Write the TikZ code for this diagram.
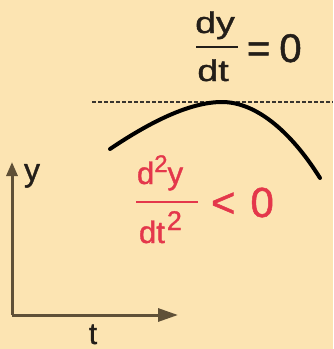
\documentclass[tikz,border=0pt]{standalone}
\usepackage{fontspec}
\setmainfont{Liberation Sans}
\newfontfamily\heavy{Liberation Sans}[FakeBold=1.2]
\usetikzlibrary{arrows.meta}
\definecolor{bg}{RGB}{252,228,178}
\definecolor{axis}{RGB}{95,80,55}
\definecolor{redtext}{RGB}{228,55,75}
\definecolor{ink}{RGB}{35,30,25}
\begin{document}
\begin{tikzpicture}[x=1pt,y=-1pt,
  txt/.style={inner sep=0pt,outer sep=0pt},
  fracbar/.style={line width=2.8pt},
  axisline/.style={draw=axis,line width=3pt},
  curveline/.style={draw=black,line width=4pt,line cap=round},
  levelline/.style={draw=ink!90,line width=2.6pt,dash pattern=on 3.5pt off 2.5pt}]
\fill[bg] (0,0) rectangle (333,349);
\useasboundingbox (0,0) rectangle (333,349);
% top fraction dy/dt = 0
\node[txt,anchor=base,text=ink,font=\heavy\fontsize{30}{32}\selectfont] (dy) at (215,33) {\scalebox{1.25}[1]{dy}};
\coordinate (b1w) at (196,47);
\coordinate (b1e) at (238,47);
\draw[fracbar,ink] (b1w) -- (b1e);
\node[txt,anchor=base,text=ink,font=\heavy\fontsize{30}{32}\selectfont] (dt) at (213,81) {\scalebox{1.25}[1]{dt}};
\node[txt,anchor=base west,text=ink,font=\heavy\fontsize{40}{42}\selectfont] (eq) at (247,62) {=\hspace{9pt}0};
% dashed level line
\coordinate (l1) at (92,102);
\coordinate (l2) at (333,102);
\draw[levelline] (l1) -- (l2);
% curve
\coordinate (c1) at (110,149);
\coordinate (c2) at (222,102);
\coordinate (c3) at (320,178);
\draw[curveline] (c1) .. controls (150,122) and (190,102) .. (c2) .. controls (255,102) and (290,130) .. (c3);
% red second derivative
\node[txt,anchor=base west,text=redtext,font=\heavy\fontsize{31}{33}\selectfont] (d2y) at (137,184) {d\raisebox{12pt}{\fontsize{24}{26}\selectfont 2}y};
\coordinate (b2w) at (136,202);
\coordinate (b2e) at (198,202);
\draw[fracbar,redtext] (b2w) -- (b2e);
\node[txt,anchor=base west,text=redtext,font=\heavy\fontsize{31}{33}\selectfont] (dt2) at (139,243) {dt\hspace{2pt}\raisebox{13pt}{\fontsize{27}{29}\selectfont 2}};
\node[txt,anchor=base west,text=redtext,font=\heavy\fontsize{42}{44}\selectfont] (lt) at (211,217) {<\hspace{15pt}0};
% axes
\coordinate (o) at (12,315);
\coordinate (ytip) at (12,162);
\coordinate (ttip) at (178,315);
\draw[axisline,-{Triangle[length=14pt,width=11pt]}] (o) -- (ytip);
\draw[axisline,-{Triangle[length=20pt,width=13pt]}] (o) -- (ttip);
\node[txt,anchor=base west,text=ink,font=\heavy\fontsize{32}{34}\selectfont] (ylab) at (24,181) {y};
\node[txt,anchor=base,text=ink,font=\heavy\fontsize{30}{32}\selectfont] (tlab) at (93,344) {t};
\end{tikzpicture}
\end{document}
